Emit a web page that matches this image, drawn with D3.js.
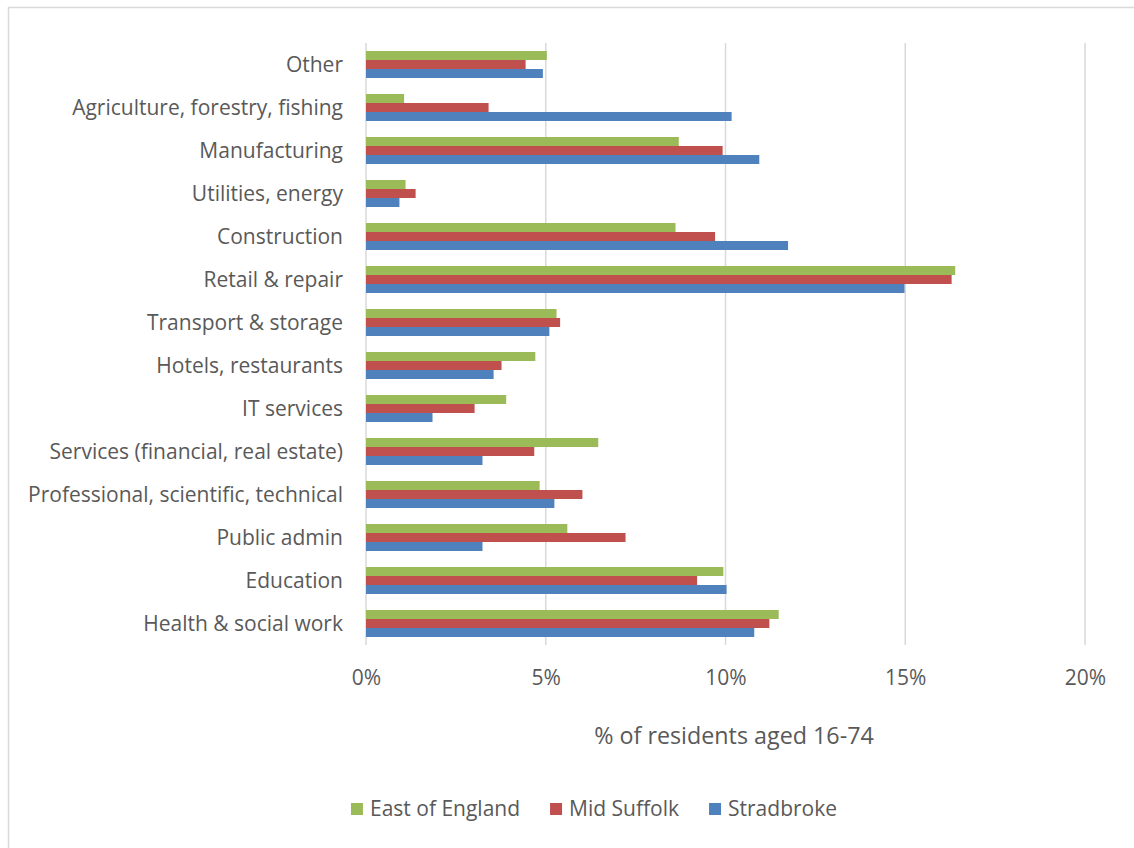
<!DOCTYPE html>
<html>
<head>
<meta charset="utf-8">
<script src="https://cdn.jsdelivr.net/npm/d3@7"></script>
<style>
  html, body { margin: 0; padding: 0; background: #fff; }
  svg { display: block; }
  text { font-family: "Open Sans", Lato, sans-serif; fill: #595959; }
</style>
</head>
<body>
<svg id="chart" width="1134" height="848"></svg>
<script>
const categories = [
  "Other",
  "Agriculture, forestry, fishing",
  "Manufacturing",
  "Utilities, energy",
  "Construction",
  "Retail & repair",
  "Transport & storage",
  "Hotels, restaurants",
  "IT services",
  "Services (financial, real estate)",
  "Professional, scientific, technical",
  "Public admin",
  "Education",
  "Health & social work"
];
const seriesNames = ["East of England", "Mid Suffolk", "Stradbroke"];
const eastOfEngland = [5.03, 1.06, 8.70, 1.10, 8.61, 16.39, 5.30, 4.71, 3.90, 6.46, 4.83, 5.60, 9.94, 11.48];
const midSuffolk    = [4.44, 3.41, 9.92, 1.38, 9.71, 16.29, 5.40, 3.77, 3.02, 4.68, 6.02, 7.22, 9.21, 11.22];
const stradbroke    = [4.92, 10.17, 10.94, 0.93, 11.74, 14.98, 5.10, 3.55, 1.85, 3.24, 5.24, 3.24, 10.03, 10.80];
const xTicks = [0, 5, 10, 15, 20];
const tickLabels = ["0%", "5%", "10%", "15%", "20%"];
const axisTitle = "% of residents aged 16-74";
const colors = ["#9BBB59", "#C0504D", "#4F81BD"];

const seriesValues = [eastOfEngland, midSuffolk, stradbroke];
const svg = d3.select("#chart");
const FONT = "'Open Sans', Lato, sans-serif";

// fit font size so the longest category label spans ~315px (as in reference)
const probe = svg.append("text").attr("font-size", 20).style("font-family", FONT)
  .text("Professional, scientific, technical");
const fs = 20 * 315 / probe.node().getComputedTextLength();
probe.remove();

// chart border (extends past right/bottom edge like reference)
svg.append("rect")
  .attr("x", 8.5).attr("y", 7.5)
  .attr("width", 1200).attr("height", 900)
  .attr("fill", "none").attr("stroke", "#d9d9d9").attr("stroke-width", 1.5);

const plot = { left: 366, right: 1085, top: 43, bottom: 645 };

const x = d3.scaleLinear().domain([0, 20]).range([plot.left, plot.right]);
const y = d3.scaleBand().domain(categories).range([plot.top, plot.bottom])
  .paddingInner(16 / 43).paddingOuter(8 / 43);
const ys = d3.scaleBand().domain(seriesNames).range([0, y.bandwidth()]);

// gridlines
svg.append("g")
  .selectAll("line").data(xTicks).join("line")
  .attr("x1", d => x(d)).attr("x2", d => x(d))
  .attr("y1", plot.top).attr("y2", plot.bottom)
  .attr("stroke", "#d9d9d9").attr("stroke-width", 1.5);

// bars
const rows = categories.map((c, i) => ({ c, vals: seriesValues.map((s, k) => ({ name: seriesNames[k], v: s[i], k })) }));
const g = svg.append("g");
g.selectAll("g.row").data(rows).join("g")
  .attr("class", "row")
  .attr("transform", d => `translate(0,${y(d.c)})`)
  .selectAll("rect").data(d => d.vals).join("rect")
  .attr("x", x(0))
  .attr("y", d => ys(d.name))
  .attr("width", d => x(d.v) - x(0))
  .attr("height", ys.bandwidth())
  .attr("fill", d => colors[d.k]);

// category axis labels
const yAxis = d3.axisLeft(y).tickSize(0).tickPadding(23);
const ya = svg.append("g").attr("transform", `translate(${plot.left},0.5)`).call(yAxis);
ya.select(".domain").remove();
ya.selectAll("text").attr("font-size", fs).style("font-family", FONT).attr("fill", "#595959");

// x axis tick labels
const xAxis = d3.axisBottom(x).tickValues(xTicks).tickFormat((d, i) => tickLabels[i]).tickSize(0).tickPadding(24);
const xa = svg.append("g").attr("transform", `translate(0,${plot.bottom + 1})`).call(xAxis);
xa.select(".domain").remove();
xa.selectAll("text").attr("font-size", fs).style("font-family", FONT).attr("fill", "#595959");

// axis title
svg.append("text")
  .attr("x", 734).attr("y", 744)
  .attr("text-anchor", "middle").attr("font-size", fs * 1.11)
  .text(axisTitle);

// legend
const legend = svg.append("g");
let cx = 0;
seriesNames.forEach((n, k) => {
  const item = legend.append("g").attr("transform", `translate(${cx},0)`);
  item.append("rect").attr("x", 0).attr("y", -6).attr("width", 12).attr("height", 12).attr("fill", colors[k]);
  const t = item.append("text").attr("x", 19).attr("y", 7).attr("font-size", fs).text(n);
  cx += 19 + t.node().getComputedTextLength() + 30;
});
const legendWidth = cx - 30;
legend.attr("transform", `translate(${594 - legendWidth / 2},809)`);
</script>
</body>
</html>
